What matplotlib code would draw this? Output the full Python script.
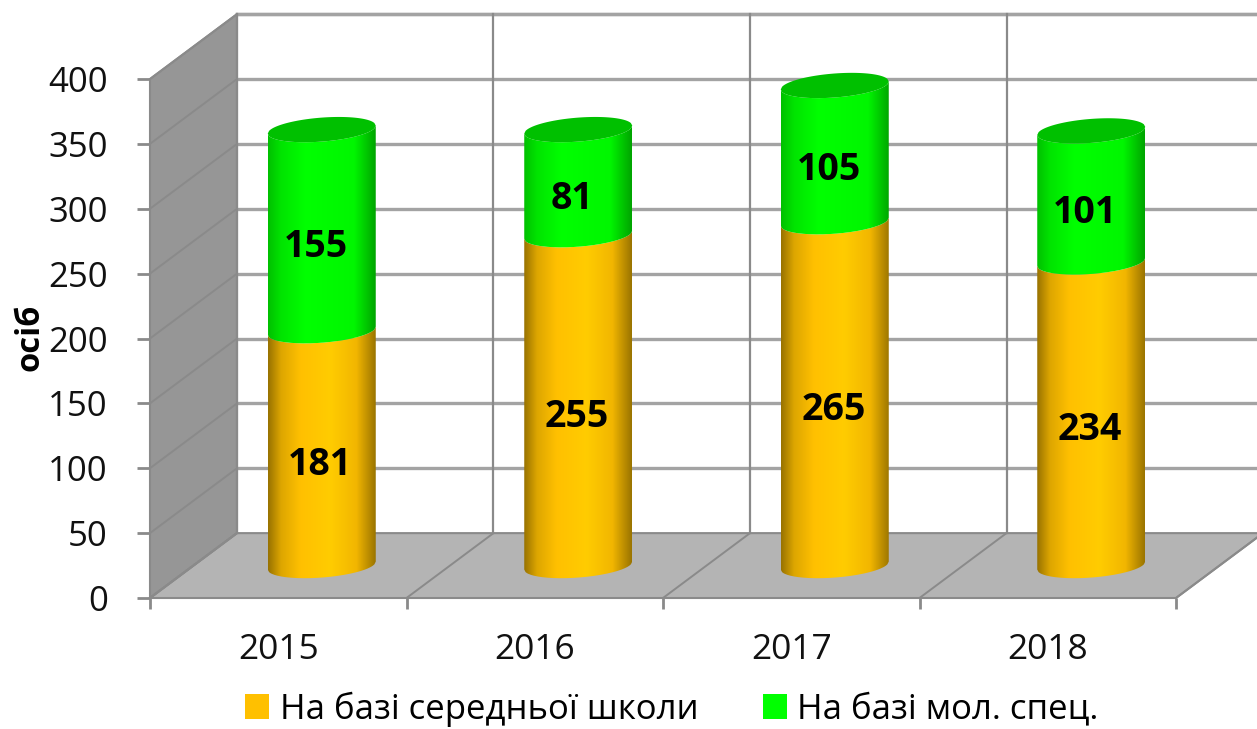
import numpy as np
import matplotlib
matplotlib.use("Agg")
import matplotlib.pyplot as plt
from matplotlib.colors import LinearSegmentedColormap
from matplotlib.patches import Patch, PathPatch, Polygon
from matplotlib.path import Path

years = ["2015", "2016", "2017", "2018"]
school = [181, 255, 265, 234]
spec = [155, 81, 105, 101]
school_label = "На базі середньої школи"
spec_label = "На базі мол. спец."
y_ticks = [0, 50, 100, 150, 200, 250, 300, 350, 400]
y_title = "осіб"

W, H = 1257, 729
FONT = ["Open Sans", "DejaVu Sans"]
fig = plt.figure(figsize=(W / 100, H / 100), dpi=100, facecolor="white")
L, R, B, T = 150, 1176, 598, 79
ax = fig.add_axes([L / W, 1 - B / H, (R - L) / W, (B - T) / H])

PXX = (R - L) / 4
PXY = (B - T) / 400
DX = 87 / PXX          # depth offset in category units
DY = 50                # depth offset in value units
WALL, FLOOR = "#969696", "#B4B4B4"
LINE, GRID = "#8A8A8A", "#A3A3A3"

ax.add_patch(Polygon([(0, 0), (DX, DY), (DX, 400 + DY), (0, 400)], fc=WALL, ec=LINE, lw=1.5, zorder=1, clip_on=False))
ax.add_patch(Polygon([(0, 0), (4, 0), (4 + DX, DY), (DX, DY)], fc=FLOOR, ec=LINE, lw=1.5, zorder=1, clip_on=False))
for v in y_ticks:
    ax.plot([0, DX], [v, v + DY], color=LINE, lw=1.4, zorder=2, clip_on=False)
    if v:
        ax.plot([DX, 4 + DX], [v + DY, v + DY], color=GRID, lw=2.4, zorder=1.5, clip_on=False)
ax.plot([DX, 4 + DX], [400 + DY] * 2, color=GRID, lw=2.4, zorder=1.5, clip_on=False)
for i in range(5):
    ax.plot([i, i + DX], [0, DY], color=LINE, lw=1.4, zorder=2, clip_on=False)
    ax.plot([i + DX, i + DX], [DY, 400 + DY], color=LINE, lw=1.6, zorder=1.5, clip_on=False)

orange = LinearSegmentedColormap.from_list("o", [(0, "#987200"), (0.12, "#DDA600"), (0.3, "#FFC000"),
                                                 (0.58, "#FFCC00"), (0.82, "#F2B600"), (1, "#9A7400")])
green = LinearSegmentedColormap.from_list("g", [(0, "#00C000"), (0.12, "#00E400"), (0.35, "#00FF00"),
                                                (0.8, "#00F600"), (1, "#00A400")])
grad = np.linspace(0, 1, 256)[None, :]

HW = 54 / PXX
EH = 12.0 / PXY   # ellipse half height
ES = 4.0 / PXY    # ellipse tilt
u = np.linspace(-1, 1, 80)


def front(cx, v):
    return cx + u * HW, v + ES * u - EH * np.sqrt(1 - u ** 2)


def back(cx, v):
    return cx + u * HW, v + ES * u + EH * np.sqrt(1 - u ** 2)


def segment(cx, v0, v1, cmap, z):
    x0, y0 = front(cx, v0)
    x1, y1 = front(cx, v1)
    xs = np.r_[x0, x1[::-1], x0[0]]
    ys = np.r_[y0, y1[::-1], y0[0]]
    path = Path(np.c_[xs, ys])
    im = ax.imshow(grad, extent=[cx - HW, cx + HW, -50, 500], aspect="auto", cmap=cmap,
                   vmin=0, vmax=1, zorder=z, interpolation="bilinear")
    im.set_clip_path(PathPatch(path, transform=ax.transData))


for i, (a, b) in enumerate(zip(school, spec)):
    cx = i + 0.5 + DX / 2
    base = DY / 2
    segment(cx, base, base + a, orange, 3)
    segment(cx, base + a, base + a + b, green, 3)
    xt, yt = back(cx, base + a + b)
    xf, yf = front(cx, base + a + b)
    ax.fill(np.r_[xf, xt[::-1]], np.r_[yf, yt[::-1]], color="#00C000", lw=0, zorder=3.5, clip_on=False)
    for v0, val, shift in ((base, a, -1), (base + a, b, -4.5)):
        ax.annotate(str(val), (cx, v0 + val / 2), xytext=(shift, -12), textcoords="offset points",
                    ha="center", va="center", fontsize=27, fontweight="bold", family=FONT, zorder=5)

ax.set_xlim(0, 4)
ax.set_ylim(0, 400)
for s in ax.spines.values():
    s.set_visible(False)
ax.patch.set_visible(False)
ax.set_xticks(range(5))
ax.set_xticklabels([])
ax.set_xticks(np.arange(4) + 0.5, minor=True)
ax.set_xticklabels(years, minor=True, fontsize=25.5, family=FONT, color="#111111")
ax.tick_params(axis="x", which="major", length=8, width=2, color=LINE)
ax.tick_params(axis="x", which="minor", length=0, pad=25)
ax.set_yticks(y_ticks)
ax.set_yticklabels([str(v) for v in y_ticks], fontsize=25, family=FONT, color="#111111")
ax.tick_params(axis="y", length=9.5, width=2, color=LINE, pad=21)
fig.text(30 / W, 1 - 337 / H, y_title, rotation=90, ha="center", va="center",
         fontsize=23.5, fontweight="bold", family=FONT)

handles = [Patch(fc="#FFC000", label=school_label), Patch(fc="#00FF00", label=spec_label)]
fig.legend(handles=handles, ncol=2, frameon=False, loc="center", bbox_to_anchor=(672 / W, 1 - 709 / H),
           prop={"family": FONT, "size": 25}, handlelength=0.7, handleheight=0.7, handletextpad=0.29,
           columnspacing=1.87, borderpad=0, borderaxespad=0)
fig.savefig("out.png", dpi=100)
